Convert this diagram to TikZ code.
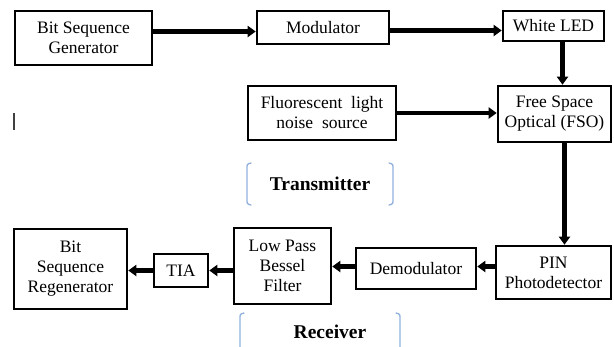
\documentclass[tikz,border=0pt]{standalone}
\usepackage{fontspec}
\setmainfont{Liberation Serif}
\usetikzlibrary{arrows.meta,positioning,calc}

\definecolor{bracecol}{HTML}{8FB0DC}

\tikzset{
  blk/.style = {draw, line width=2.6pt, align=center, inner sep=1pt,
                font=\rmfamily\fontsize{17.5}{20}\selectfont},
  flow/.style = {line width=4.8pt, -{Triangle[length=8pt,width=11pt]}},
  brace/.style = {draw=bracecol, line width=1.3pt, line cap=round},
  tag/.style = {font=\rmfamily\fontsize{19.5}{22}\selectfont\bfseries},
}

\begin{document}
\begin{tikzpicture}[x=1pt, y=-1pt]

	\useasboundingbox (0,0) rectangle (614,346);

	% transmitter side
	\node[blk, minimum width=137, minimum height=54] (gen) at (83.5,38) {Bit Sequence\\Generator};
	\node[blk, minimum width=132, minimum height=33] (mod) at (323,27.5) {Modulator};
	\node[blk, minimum width=101, minimum height=30] (led) at (553.5,26) {White LED};
	\node[blk, minimum width=148, minimum height=54] (noise) at (322,113) {Fluorescent\ \ light\\noise\ \ source};
	\node[blk, minimum width=113, minimum height=56] (fso) at (554.5,114) {Free Space\\Optical (FSO)};

	% receiver side
	\node[blk, minimum width=115, minimum height=53] (pin) at (553.5,272.5) {PIN\\Photodetector};
	\node[blk, minimum width=120, minimum height=41] (demod) at (416,268.5) {Demodulator};
	\node[blk, minimum width=97, minimum height=76] (lpf) at (282.5,266) {Low Pass\\Bessel\\Filter};
	\node[blk, minimum width=54, minimum height=33] (tia) at (181,270.5) {TIA};
	\node[blk, minimum width=113, minimum height=80] (regen) at (70.5,269) {Bit\\Sequence\\Regenerator};

	% signal path
	\draw[flow] ([yshift=-4pt]gen.east |- mod.west) -- ([yshift=-4pt]mod.west);
	\draw[flow] ([yshift=-3pt]mod.east) -- ([yshift=-3pt]mod.east -| led.west);
	\draw[flow] ([xshift=9pt]led.south) -- ([xshift=9pt]led.south |- fso.north);
	\draw[flow] (noise.east) -- (noise.east -| fso.west);
	\draw[flow] ([xshift=10pt]fso.south) -- ([xshift=10pt]fso.south |- pin.north);
	\draw[flow] ([yshift=2pt]pin.west |- demod.east) -- ([yshift=2pt]demod.east);
	\draw[flow] ([yshift=2pt]demod.west) -- ([yshift=2pt]demod.west -| lpf.east);
	\draw[flow] (lpf.west |- tia.east) -- (tia.east);
	\draw[flow] (tia.west) -- (tia.west -| regen.east);

	% stray cursor mark
	\draw[line width=1.6pt, black!75] (14,113) -- (14,130);

	% section labels
	\node[tag] (tx) at (320,184) {Transmitter};
	\draw[brace] (251,163) .. controls (247,164) .. (247,169) -- (247,199) .. controls (247,204) .. (251,205);
	\draw[brace] (389,163) .. controls (393,164) .. (393,169) -- (393,199) .. controls (393,204) .. (389,205);

	\node[tag] (rx) at (330,332) {Receiver};
	\draw[brace] (244,313) .. controls (240,314) .. (240,319) -- (240,350);
	\draw[brace] (396,313) .. controls (400,314) .. (400,319) -- (400,350);

\end{tikzpicture}
\end{document}
